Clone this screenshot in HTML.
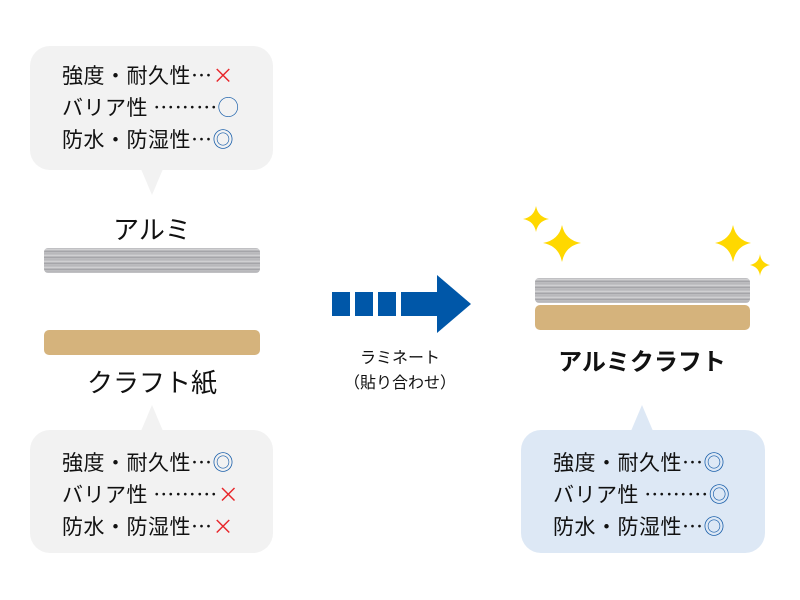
<!DOCTYPE html>
<html><head><meta charset="utf-8"><style>
body{margin:0;width:800px;height:600px;background:#fff;position:relative;overflow:hidden;font-family:"Liberation Sans","Noto Sans CJK JP",sans-serif;color:#111}
.b{position:absolute;border-radius:20px;background:#f2f2f2}
.t{position:absolute;font-family:"Noto Sans CJK JP",sans-serif;font-size:21px;line-height:32px;white-space:nowrap;letter-spacing:0.5px}
.x{color:#e8262a}.o{color:#1a5faa}
.al{position:absolute;border-radius:4px;background:repeating-linear-gradient(180deg,#b8b8bc 0,#d8d8da 2px,#9a9a9e 3px,#c8c8ca 5px,#a8a8ac 6px);}
.kr{position:absolute;border-radius:5px;background:#d5b37c}
.lbl{position:absolute;text-align:center;white-space:nowrap}
</style></head><body>
<div class="b" style="left:30px;top:46px;width:243px;height:124px"></div>
<svg style="position:absolute;left:0;top:0" width="800" height="600">
<polygon points="141,169 163,169 152,195" fill="#f2f2f2"/>
<polygon points="141,431 163,431 152,405" fill="#f2f2f2"/>
<polygon points="631,431 653,431 642,405" fill="#dde8f5"/>
<g fill="#0057a8"><rect x="332" y="292" width="18" height="24"/><rect x="355" y="292" width="18" height="24"/><rect x="378" y="292" width="18" height="24"/><rect x="401" y="292" width="38" height="24"/><polygon points="437,275 471,304 437,333"/></g>
<g fill="#ffd800">
<path d="M536,206 Q538,217 549,219 Q538,221 536,232 Q534,221 523,219 Q534,217 536,206Z"/>
<path d="M562,225 Q565,240 581,243 Q565,246 562,262 Q559,246 543,243 Q559,240 562,225Z"/>
<path d="M733,225 Q736,240 751,243 Q736,246 733,262 Q730,246 715,243 Q730,240 733,225Z"/>
<path d="M760,254 Q761,263 770,265 Q761,267 760,276 Q759,267 750,265 Q759,263 760,254Z"/>
</g></svg>
<div class="t" style="left:62px;top:59px">強度・耐久性…<span class="x">×</span><br>バリア性 ………<span class="o">◯</span><br>防水・防湿性…<span class="o">◎</span></div>
<div class="lbl" style="left:52px;width:200px;top:210px;font-size:26px">アルミ</div>
<div class="al" style="left:44px;top:248px;width:216px;height:25px"></div>
<div class="kr" style="left:44px;top:330px;width:216px;height:25px"></div>
<div class="lbl" style="left:52px;width:200px;top:363px;font-size:26px">クラフト紙</div>
<div class="b" style="left:30px;top:430px;width:243px;height:123px"></div>
<div class="t" style="left:62px;top:446px">強度・耐久性…<span class="o">◎</span><br>バリア性 ………<span class="x">×</span><br>防水・防湿性…<span class="x">×</span></div>
<div class="lbl" style="left:330px;width:140px;top:346px;font-size:16px;line-height:25px">ラミネート<br>（貼り合わせ）</div>
<div class="al" style="left:535px;top:278px;width:215px;height:25px"></div>
<div class="kr" style="left:535px;top:305px;width:215px;height:25px"></div>
<div class="lbl" style="left:542px;width:200px;top:342px;font-size:24px;font-weight:bold">アルミクラフト</div>
<div class="b" style="left:521px;top:430px;width:244px;height:123px;background:#dde8f5"></div>
<div class="t" style="left:553px;top:446px">強度・耐久性…<span class="o">◎</span><br>バリア性 ………<span class="o">◎</span><br>防水・防湿性…<span class="o">◎</span></div>
</body></html>
